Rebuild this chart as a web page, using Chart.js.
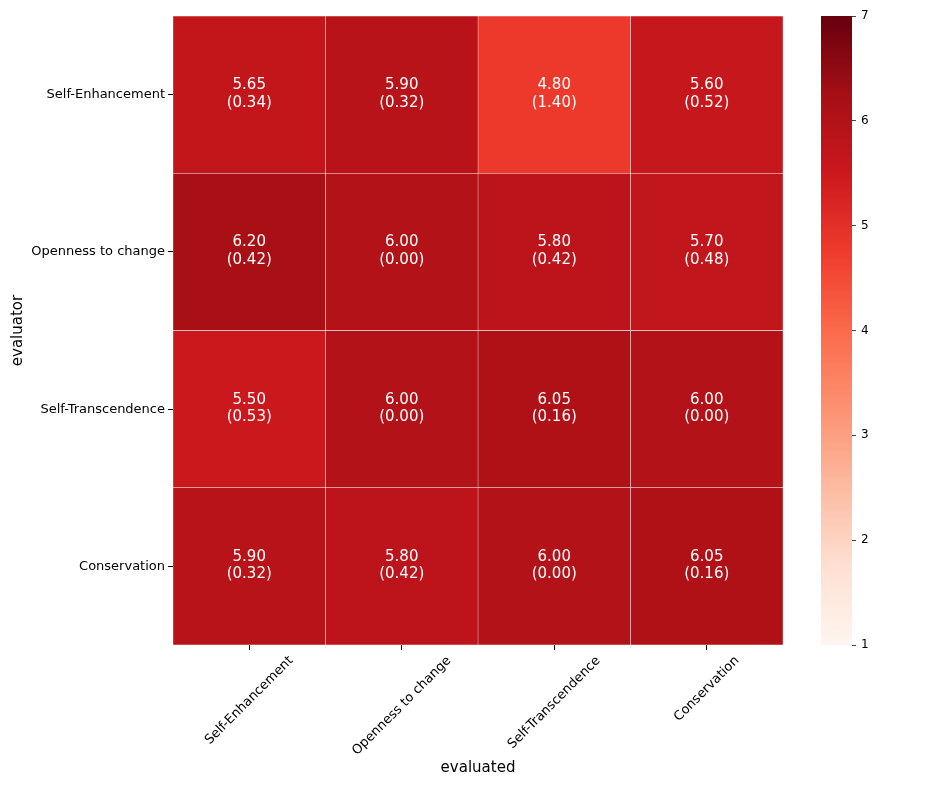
<!DOCTYPE html>
<html>
<head>
<meta charset="utf-8">
<script src="https://cdn.jsdelivr.net/npm/chart.js@4/dist/chart.umd.min.js"></script>
<style>
  html, body { margin: 0; padding: 0; background: #fff; }
  #wrap { position: relative; width: 947px; height: 789px; }
  #main { position: absolute; left: 0; top: 0; }
  #cbar { position: absolute; left: 780px; top: 0; }
</style>
</head>
<body>
<div id="wrap">
  <canvas id="main" width="947" height="789" style="width:947px;height:789px"></canvas>
  <canvas id="cbar" width="167" height="789" style="width:167px;height:789px"></canvas>
</div>
<script>
// ---- data ----
const evaluators = ['Self-Enhancement', 'Openness to change', 'Self-Transcendence', 'Conservation'];
const evaluated = ['Self-Enhancement', 'Openness to change', 'Self-Transcendence', 'Conservation'];
const meanSelfEnhancement   = [5.65, 5.90, 4.80, 5.60];
const meanOpenness          = [6.20, 6.00, 5.80, 5.70];
const meanSelfTranscendence = [5.50, 6.00, 6.05, 6.00];
const meanConservation      = [5.90, 5.80, 6.00, 6.05];
const sdSelfEnhancement     = [0.34, 0.32, 1.40, 0.52];
const sdOpenness            = [0.42, 0.00, 0.42, 0.48];
const sdSelfTranscendence   = [0.53, 0.00, 0.16, 0.00];
const sdConservation        = [0.32, 0.42, 0.00, 0.16];
const means = [meanSelfEnhancement, meanOpenness, meanSelfTranscendence, meanConservation];
const sds = [sdSelfEnhancement, sdOpenness, sdSelfTranscendence, sdConservation];
const colorMin = 1, colorMax = 7;
const colorTicks = [1, 2, 3, 4, 5, 6, 7];

// ---- matplotlib "Reds" colormap ----
const REDS = ['#fff5f0', '#fee0d2', '#fcbba1', '#fc9272', '#fb6a4a', '#ef3b2c', '#cb181d', '#a50f15', '#67000d'];
function hexRgb(h) { return [parseInt(h.slice(1,3),16), parseInt(h.slice(3,5),16), parseInt(h.slice(5,7),16)]; }
function reds(v) {
  let t = (v - colorMin) / (colorMax - colorMin);
  t = Math.max(0, Math.min(1, t));
  const pos = t * (REDS.length - 1);
  const i = Math.min(REDS.length - 2, Math.floor(pos));
  const f = pos - i;
  const a = hexRgb(REDS[i]), b = hexRgb(REDS[i + 1]);
  const c = a.map((x, k) => Math.round(x + (b[k] - x) * f));
  return `rgb(${c[0]},${c[1]},${c[2]})`;
}

const FONT = '"DejaVu Sans", "Liberation Sans", sans-serif';

// ---- plugin: cell annotations + rotated x labels ----
const heatText = {
  id: 'heatText',
  afterDatasetsDraw(chart) {
    const { ctx, scales: { x, y } } = chart;
    ctx.save();
    ctx.fillStyle = '#ffffff';
    ctx.font = '15px ' + FONT;
    ctx.textAlign = 'center';
    ctx.textBaseline = 'middle';
    evaluators.forEach((row, r) => {
      evaluated.forEach((col, c) => {
        const cx = x.getPixelForValue(c + 0.5);
        const cy = y.getPixelForValue(r);
        ctx.fillText(means[r][c].toFixed(2), cx, cy - 9.5);
        ctx.fillText('(' + sds[r][c].toFixed(2) + ')', cx, cy + 8);
      });
    });
    // rotated x tick labels (centered like matplotlib, rotation 45)
    ctx.fillStyle = '#000000';
    ctx.font = '13px ' + FONT;
    const top = chart.chartArea.bottom + 9;
    evaluated.forEach((lab, c) => {
      const w = ctx.measureText(lab).width;
      const h = 13;
      const bb = (w + h) * Math.SQRT1_2;
      const cx = x.getPixelForValue(c + 0.5);
      ctx.save();
      ctx.translate(cx, top + bb / 2);
      ctx.rotate(-Math.PI / 4);
      ctx.fillText(lab, 0, 0);
      ctx.restore();
    });
    ctx.restore();
  }
};

// ---- main heatmap ----
const datasets = evaluated.map((col, c) => ({
  label: col,
  data: evaluators.map(() => [c, c + 1]),
  backgroundColor: evaluators.map((_, r) => reds(means[r][c])),
  borderColor: 'rgba(255,255,255,0.55)',
  borderWidth: 0.5,
  borderSkipped: false,
  grouped: false,
  barPercentage: 1,
  categoryPercentage: 1
}));

new Chart(document.getElementById('main'), {
  type: 'bar',
  data: { labels: evaluators, datasets },
  options: {
    indexAxis: 'y',
    responsive: false,
    animation: false,
    devicePixelRatio: 1,
    layout: { padding: { left: 0, top: 16, right: 164, bottom: 0 } },
    plugins: { legend: { display: false }, tooltip: { enabled: false } },
    scales: {
      y: {
        type: 'category',
        offset: true,
        grid: { offset: false, drawOnChartArea: false, drawTicks: true, tickLength: 5, tickColor: '#000', tickWidth: 1 },
        border: { display: false },
        ticks: { color: '#000', font: { family: FONT, size: 13 }, padding: 3 },
        title: { display: true, text: 'evaluator', color: '#000', font: { family: FONT, size: 15 }, padding: { top: 9, bottom: 0 } },
        afterFit(scale) { scale.width = 173; }
      },
      x: {
        type: 'linear',
        min: 0,
        max: evaluated.length,
        afterBuildTicks(axis) { axis.ticks = evaluated.map((_, i) => ({ value: i + 0.5 })); },
        grid: { drawOnChartArea: false, drawTicks: true, tickLength: 5, tickColor: '#000', tickWidth: 1 },
        border: { display: false },
        ticks: { display: false },
        title: { display: true, text: 'evaluated', color: '#000', font: { family: FONT, size: 15 }, padding: { top: 0, bottom: 12 } },
        afterFit(scale) { scale.height = 144; }
      }
    }
  },
  plugins: [heatText]
});

// ---- colorbar ----
new Chart(document.getElementById('cbar'), {
  type: 'bar',
  data: {
    labels: ['scale'],
    datasets: [{
      data: [[colorMin, colorMax]],
      backgroundColor(context) {
        const chart = context.chart;
        const ys = chart.scales.y;
        if (!chart.chartArea || !ys) return REDS[6];
        const g = chart.ctx.createLinearGradient(0, ys.getPixelForValue(colorMin), 0, ys.getPixelForValue(colorMax));
        REDS.forEach((col, i) => g.addColorStop(i / (REDS.length - 1), col));
        return g;
      },
      borderWidth: 0,
      barPercentage: 1,
      categoryPercentage: 1
    }]
  },
  options: {
    responsive: false,
    animation: false,
    devicePixelRatio: 1,
    layout: { padding: { left: 41, top: 16, right: 0, bottom: 144 } },
    plugins: { legend: { display: false }, tooltip: { enabled: false } },
    scales: {
      x: { display: false },
      y: {
        position: 'right',
        min: colorMin,
        max: colorMax,
        afterBuildTicks(axis) { axis.ticks = colorTicks.map(v => ({ value: v })); },
        grid: { drawOnChartArea: false, drawTicks: true, tickLength: 4, tickColor: '#444', tickWidth: 1 },
        border: { display: false },
        ticks: { color: '#000', font: { family: FONT, size: 12 }, padding: 5 },
        afterFit(scale) { scale.width = 95; }
      }
    }
  }
});
</script>
</body>
</html>
